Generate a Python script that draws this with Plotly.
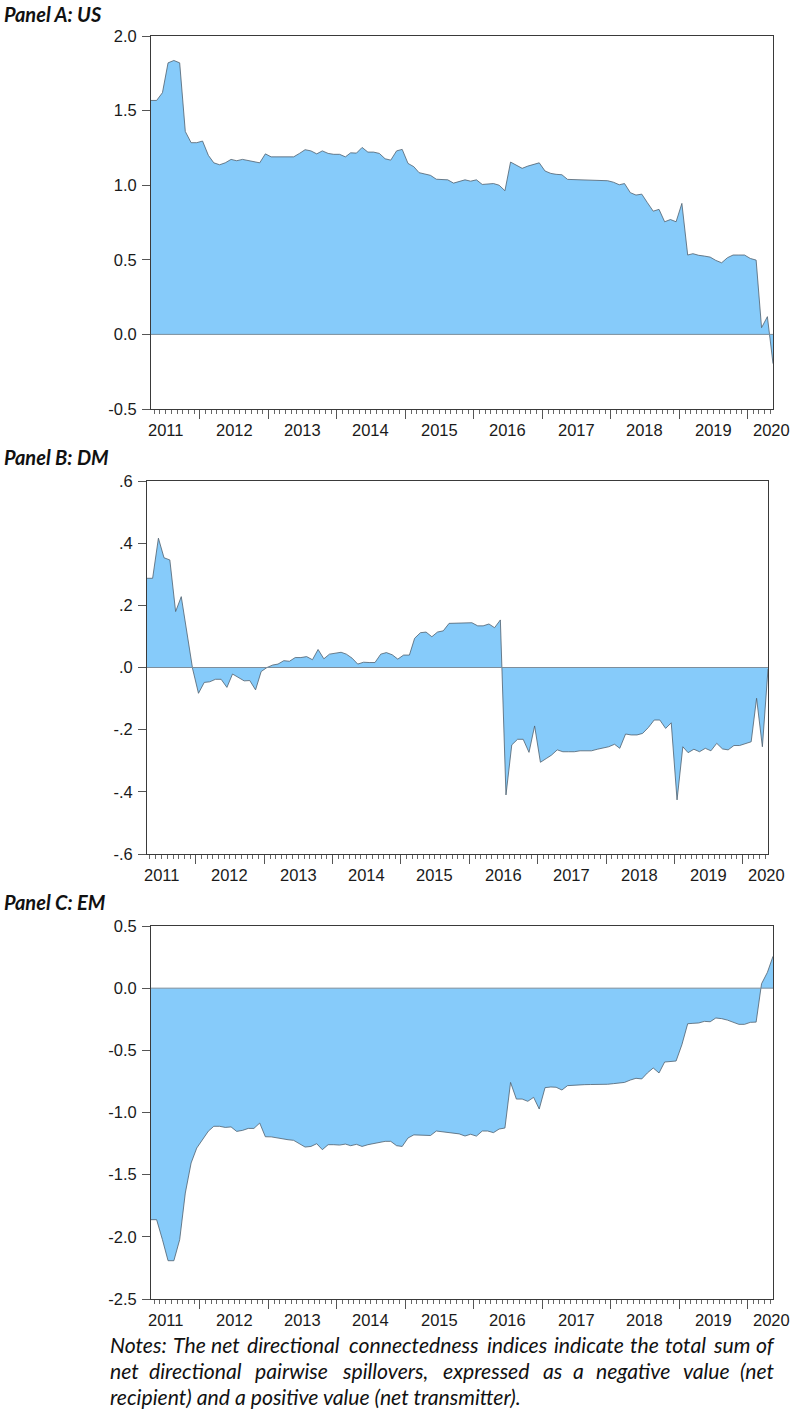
import pandas as pd
import plotly.graph_objects as go

# ---------------- data ----------------
dates = pd.date_range("2011-04-01", "2020-05-01", freq="MS") + pd.Timedelta(days=14)

us = [1.568, 1.568, 1.62, 1.82, 1.836, 1.82, 1.36, 1.285, 1.285, 1.296,
      1.20, 1.15, 1.137, 1.15, 1.173, 1.164, 1.173, 1.166, 1.162, 1.15,
      1.21, 1.19, 1.19, 1.19, 1.19, 1.19, 1.213, 1.238, 1.23, 1.21,
      1.23, 1.213, 1.207, 1.207, 1.19, 1.217, 1.215, 1.253, 1.222, 1.222,
      1.213, 1.177, 1.168, 1.23, 1.24, 1.146, 1.124, 1.084, 1.075, 1.066,
      1.04, 1.038, 1.036, 1.014, 1.023, 1.036, 1.027, 1.036, 1.005, 1.007,
      1.011, 1.0, 0.963, 1.155, 1.133, 1.113, 1.128, 1.139, 1.15, 1.095,
      1.079, 1.073, 1.07, 1.039, 1.037, 1.036, 1.035, 1.034, 1.033, 1.031,
      1.03, 1.02, 1.003, 1.011, 0.95, 0.934, 0.94, 0.883, 0.826, 0.838,
      0.755, 0.77, 0.755, 0.878, 0.532, 0.541, 0.53, 0.525, 0.518, 0.496,
      0.48, 0.514, 0.532, 0.532, 0.532, 0.509, 0.498, 0.045, 0.119, -0.196]

dm = [0.287, 0.287, 0.416, 0.353, 0.346, 0.18, 0.228, 0.11, -0.005, -0.083,
      -0.048, -0.046, -0.038, -0.038, -0.064, -0.021, -0.032, -0.043, -0.042, -0.072,
      -0.013, 0.0, 0.008, 0.011, 0.022, 0.02, 0.032, 0.032, 0.035, 0.025,
      0.058, 0.028, 0.043, 0.045, 0.049, 0.043, 0.03, 0.011, 0.017, 0.016,
      0.016, 0.043, 0.048, 0.041, 0.027, 0.04, 0.04, 0.094, 0.112, 0.114,
      0.099, 0.114, 0.118, 0.142, 0.142, 0.142, 0.142, 0.144, 0.134, 0.134,
      0.14, 0.128, 0.153, -0.41, -0.249, -0.231, -0.231, -0.273, -0.188, -0.305,
      -0.293, -0.282, -0.265, -0.271, -0.271, -0.271, -0.268, -0.268, -0.268, -0.263,
      -0.26, -0.255, -0.247, -0.26, -0.214, -0.217, -0.217, -0.212, -0.193, -0.169,
      -0.169, -0.196, -0.178, -0.426, -0.255, -0.274, -0.263, -0.271, -0.26, -0.268,
      -0.244, -0.262, -0.265, -0.251, -0.251, -0.244, -0.239, -0.099, -0.255, -0.005]

em = [-1.862, -1.862, -2.023, -2.192, -2.192, -2.023, -1.648, -1.406, -1.286, -1.219,
      -1.15, -1.111, -1.111, -1.12, -1.116, -1.152, -1.144, -1.128, -1.128, -1.085,
      -1.195, -1.196, -1.205, -1.21, -1.219, -1.224, -1.251, -1.278, -1.273, -1.251,
      -1.299, -1.259, -1.259, -1.262, -1.254, -1.267, -1.256, -1.273, -1.259, -1.251,
      -1.237, -1.232, -1.232, -1.267, -1.273, -1.205, -1.18, -1.182, -1.187, -1.185,
      -1.149, -1.155, -1.158, -1.168, -1.172, -1.189, -1.175, -1.19, -1.149, -1.149,
      -1.162, -1.133, -1.125, -0.758, -0.892, -0.892, -0.91, -0.878, -0.972, -0.8,
      -0.795, -0.797, -0.819, -0.784, -0.78, -0.78, -0.776, -0.775, -0.775, -0.775,
      -0.773, -0.768, -0.765, -0.758, -0.739, -0.725, -0.73, -0.682, -0.642, -0.682,
      -0.594, -0.589, -0.586, -0.455, -0.286, -0.283, -0.28, -0.267, -0.27, -0.24,
      -0.245, -0.257, -0.275, -0.291, -0.291, -0.275, -0.273, 0.036, 0.127, 0.256]

panel_titles = ["Panel A: US", "Panel B: DM", "Panel C: EM"]

us_ticks = [-0.5, 0.0, 0.5, 1.0, 1.5, 2.0]
us_ticktext = ["-0.5", "0.0", "0.5", "1.0", "1.5", "2.0"]
dm_ticks = [-0.6, -0.4, -0.2, 0.0, 0.2, 0.4, 0.6]
dm_ticktext = ["-.6", "-.4", "-.2", ".0", ".2", ".4", ".6"]
em_ticks = [-2.5, -2.0, -1.5, -1.0, -0.5, 0.0, 0.5]
em_ticktext = ["-2.5", "-2.0", "-1.5", "-1.0", "-0.5", "0.0", "0.5"]

year_ticks = [f"{y}-01-01" for y in range(2012, 2021)]
year_labels = [str(y) for y in range(2011, 2021)]
year_label_dates = [f"{y}-07-01" for y in range(2011, 2020)] + ["2020-05-05"]

notes_lines = [
    "Notes: The net directional connectedness indices indicate the total sum of",
    "net directional pairwise spillovers, expressed as a negative value (net",
    "recipient) and a positive value (net transmitter).",
]

# ---------------- layout helpers ----------------
W, H = 792, 1410
FILL = "#86CBFA"
EDGE = "#4f5f6d"
AXC = "#3a3a3a"
TICKFONT = dict(family="Arial", size=16.5, color="#1a1a1a")
TITLEFONT = dict(family="Lato", size=20, color="#111")

panels = [
    dict(vals=us, rng=[-0.5, 2.0], tv=us_ticks, tt=us_ticktext, px=(151, 773), py=(36, 409), ty=0),
    dict(vals=dm, rng=[-0.6, 0.6], tv=dm_ticks, tt=dm_ticktext, px=(147, 768), py=(481, 854), ty=443),
    dict(vals=em, rng=[-2.5, 0.5], tv=em_ticks, tt=em_ticktext, px=(151, 773), py=(926, 1299), ty=888),
]

fig = go.Figure()
annotations = []
shapes = []
layout = dict(width=W, height=H, margin=dict(l=0, r=0, t=0, b=0, autoexpand=False),
              paper_bgcolor="white", plot_bgcolor="white", showlegend=False)

for i, p in enumerate(panels):
    n = "" if i == 0 else str(i + 1)
    xa, ya = "x" + n, "y" + n
    fig.add_trace(go.Scatter(x=dates, y=p["vals"], mode="lines", fill="tozeroy",
                             fillcolor=FILL, line=dict(color=EDGE, width=0.8),
                             xaxis=xa, yaxis=ya, hoverinfo="skip"))
    layout["xaxis" + n] = dict(
        domain=[p["px"][0] / W, p["px"][1] / W], anchor=ya, type="date", automargin=False,
        range=[dates[0], dates[-1]], showline=True, mirror=True, linecolor=AXC,
        linewidth=1, ticks="outside", tickmode="array", tickvals=year_ticks,
        ticklen=9, tickcolor="#555", showticklabels=False, showgrid=False, zeroline=False,
        minor=dict(ticks="outside", ticklen=4, dtick="M1", tick0="2011-01-01",
                   tickcolor="#666", showgrid=False))
    layout["yaxis" + n] = dict(
        domain=[1 - p["py"][1] / H, 1 - p["py"][0] / H], anchor=xa, range=p["rng"],
        automargin=False,
        tickmode="array", tickvals=p["tv"], ticktext=p["tt"], ticks="outside",
        ticklen=8, tickcolor="#555", tickfont=TICKFONT, showgrid=False, zeroline=False,
        showline=True, mirror=True, linecolor=AXC, linewidth=1, ticklabelstandoff=2)
    shapes.append(dict(type="line", xref=xa + " domain", x0=0, x1=1, yref=ya, y0=0, y1=0,
                       line=dict(color="#7d8e9c", width=1), layer="above"))
    for lab, d in zip(year_labels, year_label_dates):
        annotations.append(dict(x=d, xref=xa, y=0, yref=ya + " domain", text=lab,
                                showarrow=False, xanchor="center", yanchor="middle",
                                yshift=-21, font=TICKFONT))
    annotations.append(dict(x=2 / W, xref="paper", y=1 - p["ty"] / H, yref="paper",
                            text=f"<b><i>{panel_titles[i]}</i></b>", showarrow=False,
                            xanchor="left", yanchor="top", font=TITLEFONT))

# ---------------- notes (justified) ----------------
NOTE_SIZE = 21.2
NOTE_FONT = dict(family="Lato", size=NOTE_SIZE, color="#111")
cw = {" ": 0.19, ".": 0.2, ",": 0.2, ":": 0.22, "(": 0.3, ")": 0.3, "i": 0.24, "j": 0.24,
      "l": 0.24, "f": 0.42, "t": 0.35, "r": 0.37, "s": 0.45, "c": 0.46, "z": 0.45,
      "m": 0.88, "w": 0.76, "u": 0.56, "o": 0.55, "N": 0.72, "T": 0.55}


def tw(s):
    return sum(cw.get(c, 0.52) for c in s) * NOTE_SIZE


L, R = 108, 777
line_y = [1345, 1371, 1397]
for k, line in enumerate(notes_lines):
    yv = 1 - line_y[k] / H
    if k < 2:
        words = line.split()
        ws = [tw(w) for w in words]
        gap = (R - L - sum(ws)) / (len(words) - 1)
        pos = L
        for j, w in enumerate(words):
            if j == 0:
                x, anc = pos, "left"
            elif j == len(words) - 1:
                x, anc = R, "right"
            else:
                x, anc = pos + ws[j] / 2, "center"
            annotations.append(dict(x=x / W, xref="paper", y=yv, yref="paper",
                                    text=f"<i>{w}</i>", showarrow=False, xanchor=anc,
                                    yanchor="middle", font=NOTE_FONT))
            pos += ws[j] + gap
    else:
        annotations.append(dict(x=L / W, xref="paper", y=yv, yref="paper",
                                text=f"<i>{line}</i>", showarrow=False, xanchor="left",
                                yanchor="middle", font=NOTE_FONT))

layout["annotations"] = annotations
layout["shapes"] = shapes
fig.update_layout(**layout)

fig.write_html("out.html", config={"displayModeBar": False},
               post_script="document.body.style.margin='0';")
